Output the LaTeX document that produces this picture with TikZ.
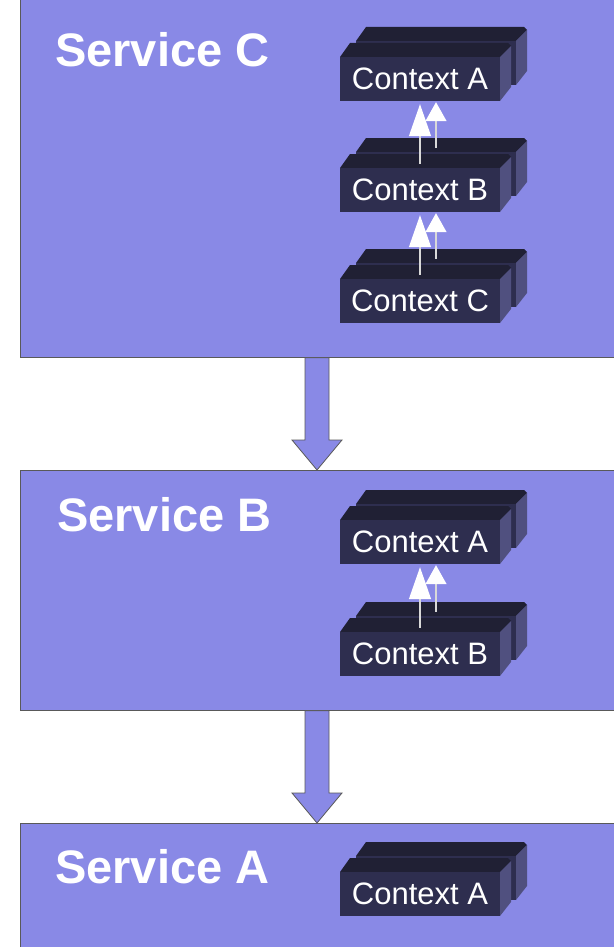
\documentclass[tikz,border=0pt]{standalone}
\usepackage{fontspec}
\setmainfont{Liberation Sans}
\usetikzlibrary{arrows.meta, calc, positioning}
\definecolor{svcfill}{HTML}{8989E6}
\definecolor{ctxfront}{HTML}{2E2E4F}
\definecolor{ctxtop}{HTML}{202034}
\definecolor{ctxside}{HTML}{50507F}
\newcommand{\ctxslab}{%
  \fill[ctxtop] (-80,-22) -- (-70,-36) -- (88,-36) -- (91,-33) -- (80,-22) -- cycle;
  \fill[ctxside] (80,-22) -- (91,-33) -- (91,8) -- (80,22) -- cycle;
  \fill[ctxfront] (-80,-22) rectangle (80,22);
}
\newcommand{\bigarrow}[2]{%
  \draw[bigarr] ($(#1.south -| ax)+(-12,0)$) -- ($(#2.north -| ax)+(-12,-30)$)
    -- ($(#2.north -| ax)+(-25,-30)$) -- (#2.north -| ax) -- ($(#2.north -| ax)+(25,-30)$)
    -- ($(#2.north -| ax)+(12,-30)$) -- ($(#1.south -| ax)+(12,0)$) -- cycle;
}
\tikzset{
  svc/.style    ={draw=black!65, fill=svcfill, line width=0.8pt, anchor=north west, minimum width=600pt, inner sep=0pt},
  svclbl/.style ={anchor=west, inner sep=0pt, text=white, font=\fontsize{47}{50}\selectfont\bfseries},
  ctxlbl/.style ={text=white, font=\fontsize{31}{33}\selectfont, inner sep=0pt, minimum width=160pt, minimum height=44pt, fill=ctxfront},
  bigarr/.style ={draw=black!65, fill=svcfill, line width=0.8pt, line join=miter},
  farr/.style   ={draw=white!85!black, line width=1.3pt, -{Triangle[length=32pt,width=22pt,fill=white,color=white]}},
  barr/.style   ={draw=white!85!black, line width=1.3pt, -{Triangle[length=19pt,width=21pt,fill=white,color=white]}},
  ctx/.pic={
    \begin{scope}[shift={(16,-16)}]
      \ctxslab
    \end{scope}
    \ctxslab
    \node[ctxlbl] (-f) at (0,0) {#1};
  },
}
\begin{document}
\begin{tikzpicture}[x=1pt, y=-1pt]
  \fill[white] (0,0) rectangle (613,947);
  \useasboundingbox (0,0) rectangle (613,947);
  \coordinate (ax) at (317,0);
  % services
  \node[svc, minimum height=360pt] (svcC) at (20,-3) {};
  \node[svc, minimum height=240pt] (svcB) at (20,470) {};
  \node[svc, minimum height=140pt] (svcA) at (20,823) {};
  \node[svclbl] (lblC) at (55,50) {Service C};
  \node[svclbl] (lblB) at (57,515) {Service B};
  \node[svclbl] (lblA) at (55,867) {Service A};
  \bigarrow{svcC}{svcB}
  \bigarrow{svcB}{svcA}
  % contexts
  \pic (cCA) at (420,79) {ctx=Context A};
  \pic (cCB) at (420,190) {ctx=Context B};
  \pic (cCC) at (420,301) {ctx=Context C};
  \pic (cBA) at (420,542) {ctx=Context A};
  \pic (cBB) at (420,654) {ctx=Context B};
  \pic (cAA) at (420,894) {ctx=Context A};
  % context arrows
  \draw[farr] ($(cCB-f.north)+(0,-4)$) -- ($(cCA-f.south)+(0,3)$);
  \draw[barr] ($(cCB-f.north)+(16,-20)$) -- ($(cCA-f.south)+(16,1)$);
  \draw[farr] ($(cCC-f.north)+(0,-4)$) -- ($(cCB-f.south)+(0,3)$);
  \draw[barr] ($(cCC-f.north)+(16,-20)$) -- ($(cCB-f.south)+(16,1)$);
  \draw[farr] ($(cBB-f.north)+(0,-4)$) -- ($(cBA-f.south)+(0,3)$);
  \draw[barr] ($(cBB-f.north)+(16,-20)$) -- ($(cBA-f.south)+(16,1)$);
\end{tikzpicture}
\end{document}
